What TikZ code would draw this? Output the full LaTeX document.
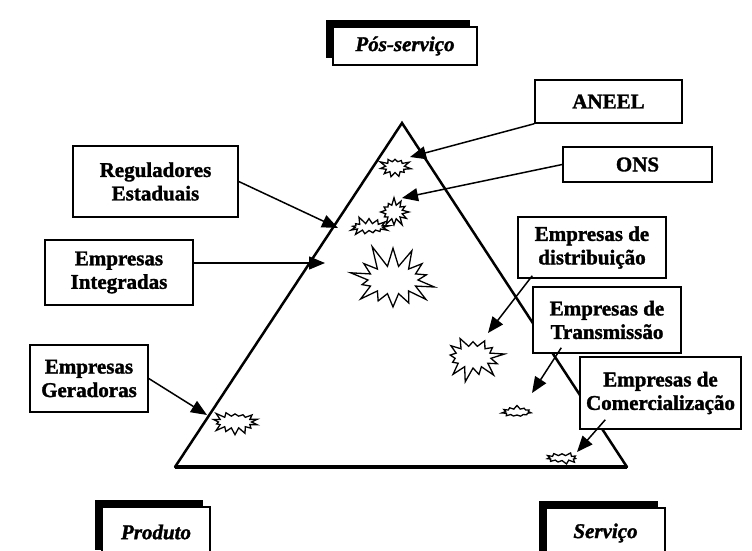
\documentclass[tikz,border=0pt]{standalone}
\usepackage{fontspec}
\setmainfont{Liberation Serif}[BoldFeatures={FakeBold=1.5},BoldItalicFeatures={FakeBold=1.5}]
\usetikzlibrary{arrows.meta,shapes.symbols,calc,shadows}
\begin{document}
\begin{tikzpicture}[x=1pt,y=-1pt,
  lbl/.style={draw, fill=white, line width=1.5pt, align=center, inner sep=0pt,
    font=\fontsize{21}{23.5}\selectfont\bfseries},
  corner/.style={draw, fill=white, line width=1.5pt, inner sep=0pt,
    font=\fontsize{21}{24}\selectfont\bfseries\itshape,
    drop shadow={shadow xshift=-7pt, shadow yshift=7pt, fill=black, opacity=1}},
  burst/.style={starburst, draw, fill=white, line width=1.3pt, inner sep=0pt, line join=miter},
  arr/.style={line width=1.5pt, -{Triangle[length=16pt,width=13pt]}},
  tri/.style={line width=2.5pt, line join=miter, line cap=round}]
\clip (0,0) rectangle (752,551);
\fill[white] (0,0) rectangle (752,551);

% triangle
\coordinate (apex) at (402,123);
\coordinate (bl) at (175,467);
\coordinate (br) at (627,467);
\draw[tri] (bl) -- (apex) -- (br);
\draw[line width=3.8pt] (bl) -- (br);

% starbursts
\node[burst, minimum width=33pt, minimum height=25pt, starburst points=11, starburst point height=7pt, random starburst=3] (s1) at (395,167) {};
\node[burst, minimum width=44pt, minimum height=23pt, starburst points=13, starburst point height=8pt, random starburst=5] (s2b) at (369,227) {};
\node[burst, minimum width=33pt, minimum height=30pt, starburst points=12, starburst point height=8pt, random starburst=7] (s2a) at (394,212) {};
\node[burst, minimum width=98pt, minimum height=76pt, starburst points=14, starburst point height=24pt, random starburst=11] (s3) at (393,280) {};
\node[burst, minimum width=66pt, minimum height=52pt, starburst points=13, starburst point height=15pt, random starburst=13] (s4) at (473,357) {};
\node[burst, minimum width=31pt, minimum height=14pt, starburst points=11, starburst point height=4pt, random starburst=17] (s5) at (517,412) {};
\node[burst, minimum width=33pt, minimum height=13pt, starburst points=11, starburst point height=4pt, random starburst=19] (s6) at (562,458) {};
\node[burst, minimum width=49pt, minimum height=28pt, starburst points=14, starburst point height=8pt, random starburst=23] (s7) at (235,422) {};

% label boxes
\node[lbl, minimum width=147pt, minimum height=43pt] (aneel) at (608.5,101.5) {ANEEL};
\node[lbl, minimum width=149pt, minimum height=35pt] (ons) at (637.5,164.5) {ONS};
\node[lbl, minimum width=165pt, minimum height=71pt] (reg) at (155.5,181.5) {Reguladores\\Estaduais};
\node[lbl, minimum width=148pt, minimum height=65pt] (int) at (119,272.5) {Empresas\\Integradas};
\node[lbl, minimum width=118pt, minimum height=67pt] (ger) at (89,378.5) {Empresas\\Geradoras};
\node[lbl, minimum width=148pt, minimum height=61pt] (dis) at (592,247.5) {Empresas de\\distribuição};
\node[lbl, minimum width=148pt, minimum height=66pt] (tra) at (607,320) {Empresas de\\Transmissão};
\node[lbl, minimum width=161pt, minimum height=72pt] (com) at (660.5,393) {Empresas de\\Comercialização};

\node[corner, minimum width=144pt, minimum height=38pt] (pos) at (405,46) {Pós-serviço};
\node[corner, minimum width=108pt, minimum height=50pt] (prod) at (156,532) {Produto};
\node[corner, minimum width=119pt, minimum height=50pt] (serv) at (605.5,533) {Serviço};

% arrow tips
\coordinate (tA) at (410,157);
\coordinate (tO) at (402,198);
\coordinate (tR) at (338,228);
\coordinate (tI) at (325,263);
\coordinate (tG) at (207,415);
\coordinate (tD) at (488,333);
\coordinate (tT) at (532,393);
\coordinate (tC) at (577,452);

\draw[arr] (aneel.south west) -- (tA);
\draw[arr] (ons.west) -- (tO);
\draw[arr] (reg.east) -- (tR);
\draw[arr] (int.east |- tI) -- (tI);
\draw[arr] (ger.east) -- (tG);
\draw[arr] ($(dis.south west)+(15,-3)$) -- (tD);
\draw[arr] ($(tra.south west)+(29,-6)$) -- (tT);
\draw[arr] ($(com.south west)+(26,-10)$) -- (tC);
\end{tikzpicture}
\end{document}
